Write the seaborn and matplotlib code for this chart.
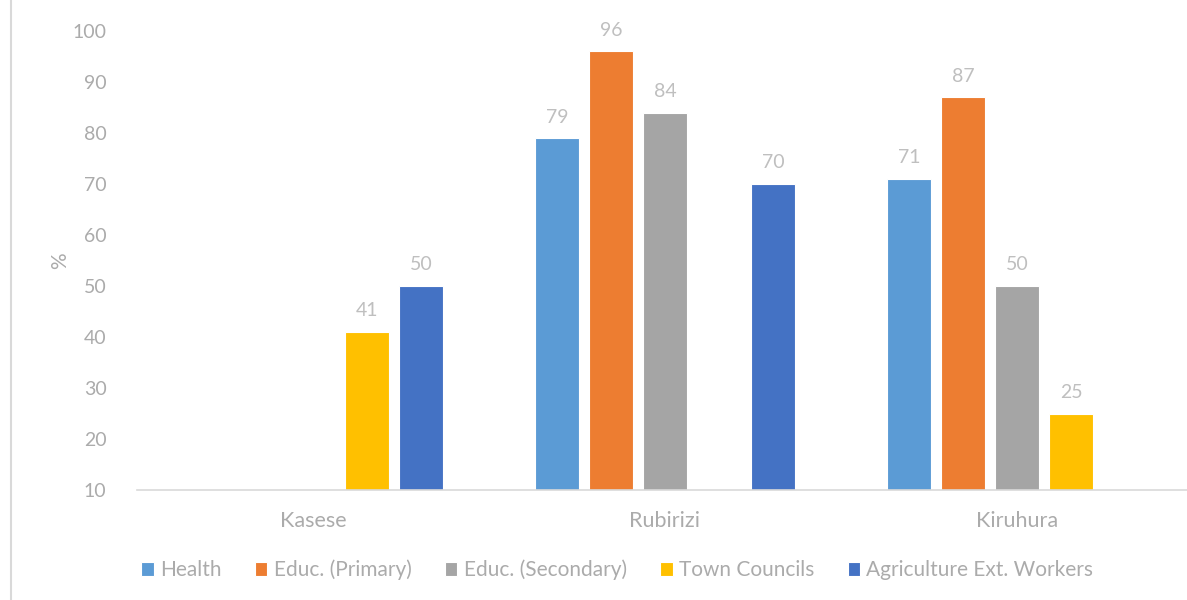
import matplotlib
matplotlib.use("Agg")
import matplotlib.pyplot as plt
import seaborn as sns
import pandas as pd
import numpy as np
from matplotlib.lines import Line2D

districts = ["Kasese", "Rubirizi", "Kiruhura"]
sectors = ["Health", "Educ. (Primary)", "Educ. (Secondary)", "Town Councils", "Agriculture Ext. Workers"]
health = [np.nan, 79, 71]
primary = [np.nan, 96, 87]
secondary = [np.nan, 84, 50]
town = [41, np.nan, 25]
agri = [50, 70, np.nan]
colors = ["#5B9BD5", "#ED7D31", "#A5A5A5", "#FFC000", "#4472C4"]
yticks = [10, 20, 30, 40, 50, 60, 70, 80, 90, 100]

rows = []
for s, vals in zip(sectors, [health, primary, secondary, town, agri]):
    for d, v in zip(districts, vals):
        if not np.isnan(v):
            rows.append({"District": d, "Sector": s, "Value": v})
df = pd.DataFrame(rows)

sns.set_theme(style="white")
plt.rcParams["font.family"] = ["Lato", "DejaVu Sans"]

fig = plt.figure(figsize=(11.87, 6), dpi=100)
ax = fig.add_axes([137 / 1187, 1 - 490 / 600, 1 - 137 / 1187, (490 - 31) / 600])

sns.barplot(data=df, x="District", y="Value", hue="Sector", order=districts,
            hue_order=sectors, palette=colors, saturation=1, width=0.767, gap=0.2,
            edgecolor="white", linewidth=0.8, ax=ax, legend=True)

ax.set_ylim(10, 100)
ax.set_xlim(-0.5, 2.483)
ax.set_yticks(yticks)
ax.set_yticklabels([str(t) for t in yticks])
tick_col = "#ABABAB"
ax.tick_params(axis="y", colors=tick_col, labelsize=14, length=0, pad=22)
ax.tick_params(axis="x", colors=tick_col, labelsize=15.5, length=0, pad=15)
ax.set_xlabel("")
ax.set_ylabel("%", color=tick_col, fontsize=15, labelpad=2)
for sp in ["top", "right", "left"]:
    ax.spines[sp].set_visible(False)
ax.spines["bottom"].set_color("#D9D9D9")
ax.spines["bottom"].set_linewidth(1.2)

for cont in ax.containers:
    ax.bar_label(cont, fmt="%.0f", padding=9, color="#BFBFBF", fontsize=14)

handles, labels = ax.get_legend_handles_labels()
ax.get_legend().remove()
leg = fig.legend(handles, labels, loc="center left", bbox_to_anchor=(133 / 1187, 1 - 570 / 600),
                 ncol=5, frameon=False, fontsize=15, handlelength=0.6, handleheight=0.6,
                 handletextpad=0.3, columnspacing=1.6, borderaxespad=0)
for t in leg.get_texts():
    t.set_color(tick_col)

fig.add_artist(Line2D([11 / 1187, 11 / 1187], [0, 1], color="#D9D9D9", linewidth=1.5,
                      transform=fig.transFigure))

fig.savefig("out.png", dpi=100)
